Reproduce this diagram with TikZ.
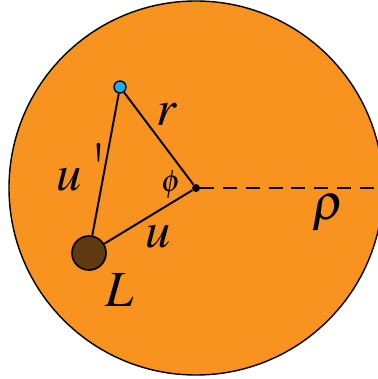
\documentclass[tikz,border=0pt]{standalone}
\usepackage{mathptmx}
\usepackage{tikz}
\usetikzlibrary{positioning,calc}
\usepackage{xcolor}
\definecolor{DiskOrange}{HTML}{F7931E}
\definecolor{LensBrown}{HTML}{603913}
\definecolor{SourceBlue}{HTML}{1CAEE8}
\definecolor{LineBlack}{HTML}{000000}
\tikzset{
    % Disk style
    disknode/.style={
        circle,
        draw=LineBlack,
        fill=DiskOrange,
        line width=1pt,
        minimum size=9.35cm,
        inner sep=0pt
    },
    % Lens style
    lensnode/.style={
        circle,
        draw=LineBlack,
        fill=LensBrown,
        line width=1.2pt,
        minimum size=0.85cm,
        inner sep=0pt
    },
    % Source style
    sourcenode/.style={
        circle,
        draw=LineBlack,
        fill=SourceBlue,
        line width=1pt,
        minimum size=0.3cm,
        inner sep=0pt
    },
    % Centre point
    centrenode/.style={
        circle,
        fill=LineBlack,
        minimum size=0.2cm,
        inner sep=0pt
    },
    % Labels
    biglabel/.style={
        font=\fontsize{36}{40}\selectfont
    },
    smalllabel/.style={
        font=\fontsize{22}{26}\selectfont
    },
    % Line styles
    myline/.style={
        line width=1.4pt,
        draw=LineBlack
    },
    dashline/.style={
        myline,
        dash pattern=on 0.35cm off 0.22cm
    }
}
\begin{document}
\begin{tikzpicture}
    \useasboundingbox (-4.9,-4.775) rectangle (4.55,4.7);
    \node[disknode] (disk) at (0,0) {};
    \coordinate (rim) at (4.55,0);
    \node[centrenode] (c) at (0,0) {};
    \node[sourcenode] (s) at (-1.9,2.525) {};
    \node[lensnode] (l) at (-2.675,-1.625) {};

    \draw[myline] (s) -- (c);
    \draw[myline] (s) -- (l);
    \draw[myline] (l) -- (c);
    \draw[dashline] (c) -- (rim);

    \node[biglabel] (lr) at (-0.725,1.825) {$r$};
    \node[biglabel] (lup) at (-2.85,0.525) {$u$\,{\fontsize{48}{50}\selectfont\textquotesingle}};
    \node[smalllabel] (lphi) at (-0.625,0.075) {$\phi$};
    \node[biglabel] (lu) at (-0.95,-1.225) {$u$};
    \node[biglabel] (ll) at (-1.9,-2.55) {$L$};
    \node[biglabel] (lrho) at (3.3,-0.625) {$\rho$};
\end{tikzpicture}
\end{document}
